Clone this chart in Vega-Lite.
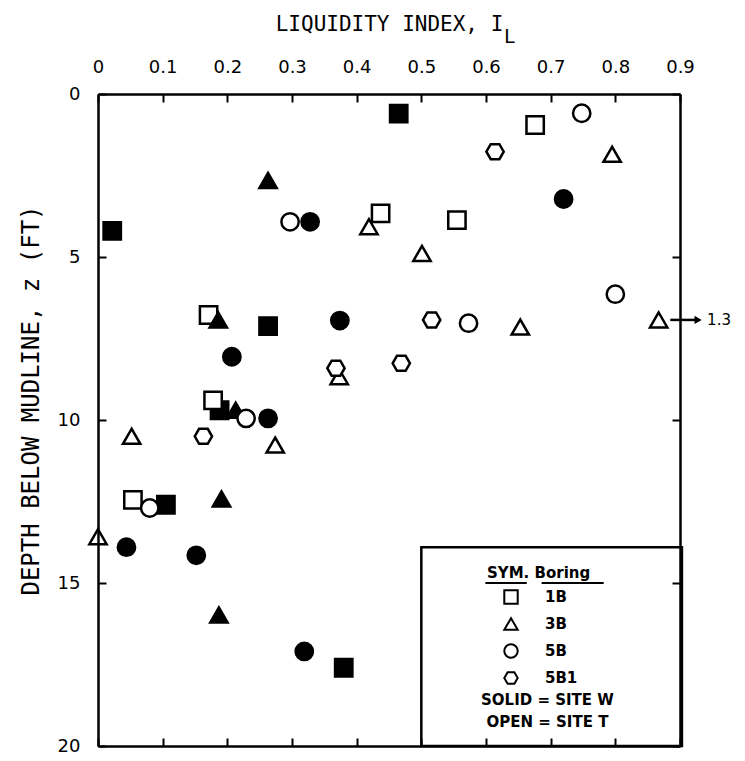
{
  "$schema": "https://vega.github.io/schema/vega-lite/v6.json",
  "width": 582,
  "height": 652,
  "autosize": {"type": "none"},
  "padding": {"left": 98, "top": 94, "right": 65, "bottom": 15},
  "background": "white",
  "config": {"view": {"stroke": null}, "font": "DejaVu Sans"},
  "datasets": {
    "points": [
      {"x": 0.465, "z": 0.6, "boring": "1B", "site": "W"},
      {"x": 0.022, "z": 4.2, "boring": "1B", "site": "W"},
      {"x": 0.263, "z": 7.12, "boring": "1B", "site": "W"},
      {"x": 0.188, "z": 9.7, "boring": "1B", "site": "W"},
      {"x": 0.105, "z": 12.6, "boring": "1B", "site": "W"},
      {"x": 0.38, "z": 17.6, "boring": "1B", "site": "W"},
      {"x": 0.676, "z": 0.95, "boring": "1B", "site": "T"},
      {"x": 0.437, "z": 3.66, "boring": "1B", "site": "T"},
      {"x": 0.555, "z": 3.87, "boring": "1B", "site": "T"},
      {"x": 0.171, "z": 6.78, "boring": "1B", "site": "T"},
      {"x": 0.178, "z": 9.4, "boring": "1B", "site": "T"},
      {"x": 0.054, "z": 12.45, "boring": "1B", "site": "T"},
      {"x": 0.263, "z": 2.65, "boring": "3B", "site": "W"},
      {"x": 0.186, "z": 6.93, "boring": "3B", "site": "W"},
      {"x": 0.213, "z": 9.7, "boring": "3B", "site": "W"},
      {"x": 0.191, "z": 12.42, "boring": "3B", "site": "W"},
      {"x": 0.187, "z": 15.98, "boring": "3B", "site": "W"},
      {"x": 0.795, "z": 1.85, "boring": "3B", "site": "T"},
      {"x": 0.419, "z": 4.07, "boring": "3B", "site": "T"},
      {"x": 0.501, "z": 4.89, "boring": "3B", "site": "T"},
      {"x": 0.653, "z": 7.15, "boring": "3B", "site": "T"},
      {"x": 0.867, "z": 6.93, "boring": "3B", "site": "T"},
      {"x": 0.373, "z": 8.67, "boring": "3B", "site": "T"},
      {"x": 0.052, "z": 10.5, "boring": "3B", "site": "T"},
      {"x": 0.274, "z": 10.77, "boring": "3B", "site": "T"},
      {"x": 0.0, "z": 13.58, "boring": "3B", "site": "T"},
      {"x": 0.328, "z": 3.92, "boring": "5B", "site": "W"},
      {"x": 0.72, "z": 3.22, "boring": "5B", "site": "W"},
      {"x": 0.374, "z": 6.95, "boring": "5B", "site": "W"},
      {"x": 0.207, "z": 8.06, "boring": "5B", "site": "W"},
      {"x": 0.263, "z": 9.95, "boring": "5B", "site": "W"},
      {"x": 0.044, "z": 13.9, "boring": "5B", "site": "W"},
      {"x": 0.152, "z": 14.15, "boring": "5B", "site": "W"},
      {"x": 0.319, "z": 17.1, "boring": "5B", "site": "W"},
      {"x": 0.748, "z": 0.59, "boring": "5B", "site": "T"},
      {"x": 0.297, "z": 3.92, "boring": "5B", "site": "T"},
      {"x": 0.8, "z": 6.14, "boring": "5B", "site": "T"},
      {"x": 0.573, "z": 7.03, "boring": "5B", "site": "T"},
      {"x": 0.229, "z": 9.95, "boring": "5B", "site": "T"},
      {"x": 0.08, "z": 12.7, "boring": "5B", "site": "T"},
      {"x": 0.614, "z": 1.77, "boring": "5B1", "site": "T"},
      {"x": 0.516, "z": 6.93, "boring": "5B1", "site": "T"},
      {"x": 0.368, "z": 8.41, "boring": "5B1", "site": "T"},
      {"x": 0.469, "z": 8.26, "boring": "5B1", "site": "T"},
      {"x": 0.163, "z": 10.5, "boring": "5B1", "site": "T"}
    ],
    "legendbox": [{"x1": 0.5, "x2": 0.903, "y1": 13.9, "y2": 20}],
    "underlines": [{"a": 0.599, "b": 0.663, "d": 15.0}, {"a": 0.686, "b": 0.782, "d": 15.0}],
    "notes": [{"x": 0.695, "d": 18.6, "t": "SOLID = SITE W"}, {"x": 0.695, "d": 19.27, "t": "OPEN = SITE T"}],
    "subscript": [{"x": 0.628, "d": -1.75, "t": "L"}],
    "offscale": [{"x": 0.885, "x2": 0.928, "d": 6.93, "label": "1.3"}]
  },
  "layer": [
    {
      "data": {"name": "points"},
      "mark": {"type": "point", "filled": true, "size": 300, "stroke": "black", "strokeWidth": 2.5, "opacity": 1},
      "encoding": {
        "x": {
          "field": "x", "type": "quantitative",
          "scale": {"domain": [0, 0.9], "nice": false, "zero": false},
          "axis": {
            "orient": "top",
            "values": [0, 0.1, 0.2, 0.3, 0.4, 0.5, 0.6, 0.7, 0.8, 0.9],
            "labelExpr": "datum.value == 0 ? '0' : format(datum.value, '.1f')",
            "labelFlush": false, "labelOverlap": false,
            "tickSize": -8, "tickWidth": 2, "tickColor": "black",
            "domainColor": "black", "domainWidth": 2.5,
            "labelFontSize": 18, "labelColor": "black", "labelPadding": 26,
            "title": "LIQUIDITY INDEX, I", "titleFont": "DejaVu Sans Mono", "titleFontSize": 21, "titleFontWeight": "normal", "titleColor": "black", "titlePadding": 24,
            "grid": false, "zindex": 1
          }
        },
        "y": {
          "field": "z", "type": "quantitative",
          "scale": {"domain": [0, 20], "reverse": true, "nice": false, "zero": false},
          "axis": {
            "orient": "left",
            "values": [0, 5, 10, 15, 20],
            "labelFlush": false, "labelOverlap": false,
            "tickSize": -8, "tickWidth": 2, "tickColor": "black",
            "domainColor": "black", "domainWidth": 2.5,
            "labelFontSize": 18, "labelColor": "black", "labelPadding": 26,
            "title": "DEPTH BELOW MUDLINE, z (FT)", "titleFont": "DejaVu Sans Mono", "titleFontSize": 24, "titleFontWeight": "normal", "titleColor": "black", "titlePadding": 14, "titleY": 306,
            "grid": false, "zindex": 1
          }
        },
        "shape": {
          "field": "boring", "type": "nominal",
          "scale": {"domain": ["1B", "3B", "5B", "5B1"], "range": ["square", "triangle-up", "circle", "M-1,0L-0.5,-0.866L0.5,-0.866L1,0L0.5,0.866L-0.5,0.866Z"]},
          "legend": {
            "orient": "none", "legendX": 389, "legendY": 472,
            "title": "SYM.   Boring", "titleFontSize": 15, "titleFontWeight": "bold", "titleColor": "black", "titlePadding": 8,
            "labelFontSize": 15, "labelFontWeight": "bold", "labelColor": "black", "labelOffset": 26,
            "symbolSize": 180, "symbolStrokeWidth": 2, "symbolFillColor": "white", "symbolStrokeColor": "black", "symbolOffset": 16,
            "rowPadding": 6
          }
        },
        "fill": {
          "field": "site", "type": "nominal",
          "scale": {"domain": ["W", "T"], "range": ["black", "white"]},
          "legend": null
        }
      }
    },
    {
      "data": {"name": "legendbox"},
      "mark": {"type": "rect", "fill": "white", "fillOpacity": 0, "stroke": "black", "strokeWidth": 2.5},
      "encoding": {
        "x": {
          "field": "x1", "type": "quantitative",
          "scale": {"domain": [0, 0.9], "nice": false, "zero": false},
          "axis": {
            "orient": "bottom",
            "values": [0, 0.1, 0.2, 0.3, 0.4, 0.5, 0.6, 0.7, 0.8, 0.9],
            "labels": false, "title": null,
            "tickSize": -8, "tickWidth": 2, "tickColor": "black",
            "domainColor": "black", "domainWidth": 2.5, "grid": false, "zindex": 1
          }
        },
        "x2": {"field": "x2"},
        "y": {
          "field": "y1", "type": "quantitative",
          "scale": {"domain": [0, 20], "reverse": true, "nice": false, "zero": false},
          "axis": {
            "orient": "right",
            "values": [0, 5, 10, 15, 20],
            "labels": false, "title": null,
            "tickSize": -8, "tickWidth": 2, "tickColor": "black",
            "domainColor": "black", "domainWidth": 2.5, "grid": false, "zindex": 1
          }
        },
        "y2": {"field": "y2"}
      }
    },
    {
      "data": {"name": "underlines"},
      "mark": {"type": "rule", "stroke": "black", "strokeWidth": 2},
      "encoding": {
        "x": {"field": "a", "type": "quantitative", "scale": {"domain": [0, 0.9], "nice": false, "zero": false}, "axis": null},
        "x2": {"field": "b"},
        "y": {"field": "d", "type": "quantitative", "scale": {"domain": [0, 20], "reverse": true, "nice": false, "zero": false}, "axis": null}
      }
    },
    {
      "data": {"name": "notes"},
      "mark": {"type": "text", "fontSize": 15, "fontWeight": "bold", "color": "black", "align": "center", "baseline": "middle"},
      "encoding": {
        "x": {"field": "x", "type": "quantitative", "scale": {"domain": [0, 0.9], "nice": false, "zero": false}, "axis": null},
        "y": {"field": "d", "type": "quantitative", "scale": {"domain": [0, 20], "reverse": true, "nice": false, "zero": false}, "axis": null},
        "text": {"field": "t"}
      }
    },
    {
      "data": {"name": "subscript"},
      "mark": {"type": "text", "font": "DejaVu Sans Mono", "fontSize": 19, "color": "black", "align": "left", "baseline": "middle"},
      "encoding": {
        "x": {"field": "x", "type": "quantitative", "scale": {"domain": [0, 0.9], "nice": false, "zero": false}, "axis": null},
        "y": {"field": "d", "type": "quantitative", "scale": {"domain": [0, 20], "reverse": true, "nice": false, "zero": false}, "axis": null},
        "text": {"field": "t"}
      }
    },
    {
      "data": {"name": "offscale"},
      "mark": {"type": "rule", "stroke": "black", "strokeWidth": 2.5},
      "encoding": {
        "x": {"field": "x", "type": "quantitative", "scale": {"domain": [0, 0.9], "nice": false, "zero": false}, "axis": null},
        "x2": {"field": "x2"},
        "y": {"field": "d", "type": "quantitative", "scale": {"domain": [0, 20], "reverse": true, "nice": false, "zero": false}, "axis": null}
      }
    },
    {
      "data": {"name": "offscale"},
      "mark": {"type": "point", "shape": "triangle-right", "filled": true, "color": "black", "size": 70, "opacity": 1},
      "encoding": {
        "x": {"field": "x2", "type": "quantitative", "scale": {"domain": [0, 0.9], "nice": false, "zero": false}, "axis": null},
        "y": {"field": "d", "type": "quantitative", "scale": {"domain": [0, 20], "reverse": true, "nice": false, "zero": false}, "axis": null}
      }
    },
    {
      "data": {"name": "offscale"},
      "mark": {"type": "text", "fontSize": 15, "color": "black", "align": "left", "baseline": "middle", "dx": 9},
      "encoding": {
        "x": {"field": "x2", "type": "quantitative", "scale": {"domain": [0, 0.9], "nice": false, "zero": false}, "axis": null},
        "y": {"field": "d", "type": "quantitative", "scale": {"domain": [0, 20], "reverse": true, "nice": false, "zero": false}, "axis": null},
        "text": {"field": "label"}
      }
    }
  ],
  "resolve": {"axis": {"x": "independent", "y": "independent"}}
}
